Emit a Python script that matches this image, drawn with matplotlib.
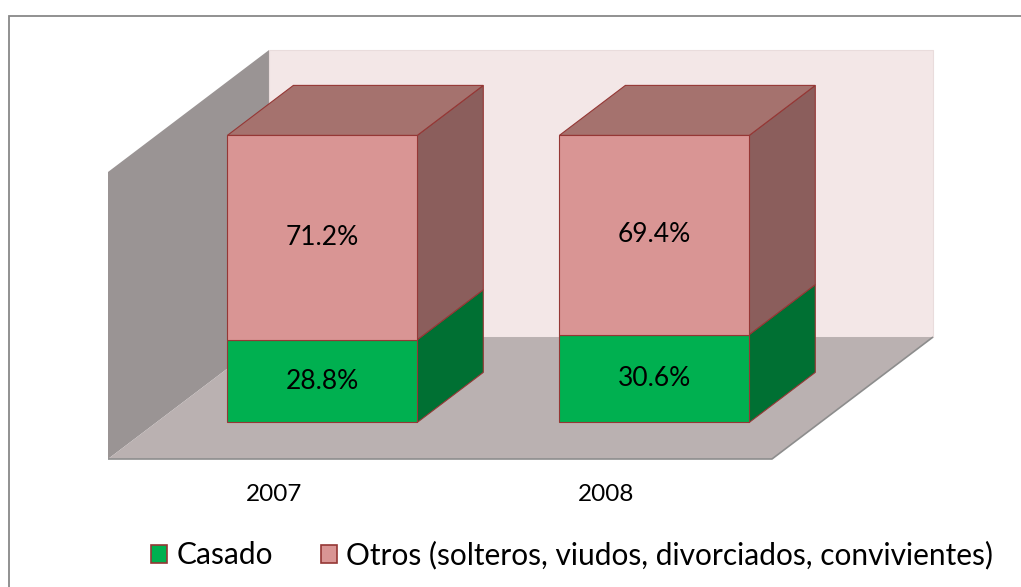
import matplotlib
matplotlib.use("Agg")
import matplotlib.pyplot as plt
from matplotlib.patches import Polygon, Rectangle, Patch

# data
categories = ["2007", "2008"]
casado = [28.8, 30.6]
otros = [71.2, 69.4]
series_names = ["Casado", "Otros (solteros, viudos, divorciados, convivientes)"]

# colours
front_cols = ["#00b050", "#d99594"]
side_cols = ["#007033", "#8b5e5c"]
top_col = "#a5726e"
edge_col = "#953735"

plt.rcParams['font.family'] = ['Lato', 'DejaVu Sans']

W, H = 1021, 587
fig = plt.figure(figsize=(W / 100, H / 100), dpi=100)

# outer chart border (only left and top visible in the crop)
fig.patches.append(Rectangle((9 / W, -0.1), 1.2, 1 - 16 / H + 0.1,
                             transform=fig.transFigure, fill=False,
                             edgecolor="#888888", linewidth=1.3))

# the axes covers the front edge of the floor (x) and the value scale (y)
ax = fig.add_axes([108 / W, (H - 459) / H, 664 / W, 287 / H])
ax.set_xlim(0, len(categories))
ax.set_ylim(0, 100)
ax.axis("off")

# depth of the 3d box, in data units
DX = 0.485
DY = 42.5
ncat = len(categories)

# walls and floor
left_wall = Polygon([(0, 0), (0, 100), (DX, 100 + DY), (DX, DY)], closed=True,
                    facecolor="#9a9494", edgecolor="none", zorder=1, clip_on=False)
back_wall = Polygon([(DX, DY), (ncat + DX, DY), (ncat + DX, 100 + DY), (DX, 100 + DY)],
                    closed=True, facecolor="#f3e7e7", edgecolor="#e9dcdc",
                    linewidth=0.8, zorder=1, clip_on=False)
floor = Polygon([(0, 0), (ncat, 0), (ncat + DX, DY), (DX, DY)], closed=True,
                facecolor="#bab1b1", edgecolor="none", zorder=2, clip_on=False)
for p in (left_wall, back_wall, floor):
    ax.add_patch(p)
ax.plot([0, ncat, ncat + DX], [0, 0, DY], color="#8d8d8d", lw=1.2,
        zorder=2, clip_on=False, solid_capstyle="butt")

# bars
bar_w = 0.572
f0, f1 = 0.30, 0.71
bdx = (f1 - f0) * DX
bdy = (f1 - f0) * DY
for i, cat in enumerate(categories):
    xl = i + 0.5 - bar_w / 2 + f0 * DX
    xr = xl + bar_w
    base = f0 * DY
    bottom = 0.0
    for s, vals in enumerate([casado, otros]):
        v = vals[i]
        y0 = base + bottom
        y1 = y0 + v
        ax.add_patch(Polygon([(xl, y0), (xr, y0), (xr, y1), (xl, y1)], closed=True,
                             facecolor=front_cols[s], edgecolor=edge_col,
                             linewidth=0.8, zorder=4, clip_on=False))
        ax.add_patch(Polygon([(xr, y0), (xr + bdx, y0 + bdy), (xr + bdx, y1 + bdy), (xr, y1)],
                             closed=True, facecolor=side_cols[s], edgecolor=edge_col,
                             linewidth=0.8, zorder=3, clip_on=False))
        ax.text((xl + xr) / 2, (y0 + y1) / 2, "%.1f%%" % v, ha="center", va="center",
                fontsize=19, color="black", zorder=6)
        bottom += v
    ytop = base + bottom
    ax.add_patch(Polygon([(xl, ytop), (xr, ytop), (xr + bdx, ytop + bdy), (xl + bdx, ytop + bdy)],
                         closed=True, facecolor=top_col, edgecolor=edge_col,
                         linewidth=0.8, zorder=3, clip_on=False))
    ax.text(i + 0.5, -12.3, cat, ha="center", va="center", fontsize=17.5, color="black")

handles = [Patch(facecolor=front_cols[s], edgecolor=edge_col, linewidth=1.2)
           for s in range(2)]
fig.legend(handles, series_names, loc="center", bbox_to_anchor=(572 / W, 1 - 555 / H),
           ncol=2, frameon=False, fontsize=21.5, handlelength=0.56, handleheight=0.56,
           handletextpad=0.3, columnspacing=1.6, borderaxespad=0)

fig.savefig("out.png", dpi=100)
